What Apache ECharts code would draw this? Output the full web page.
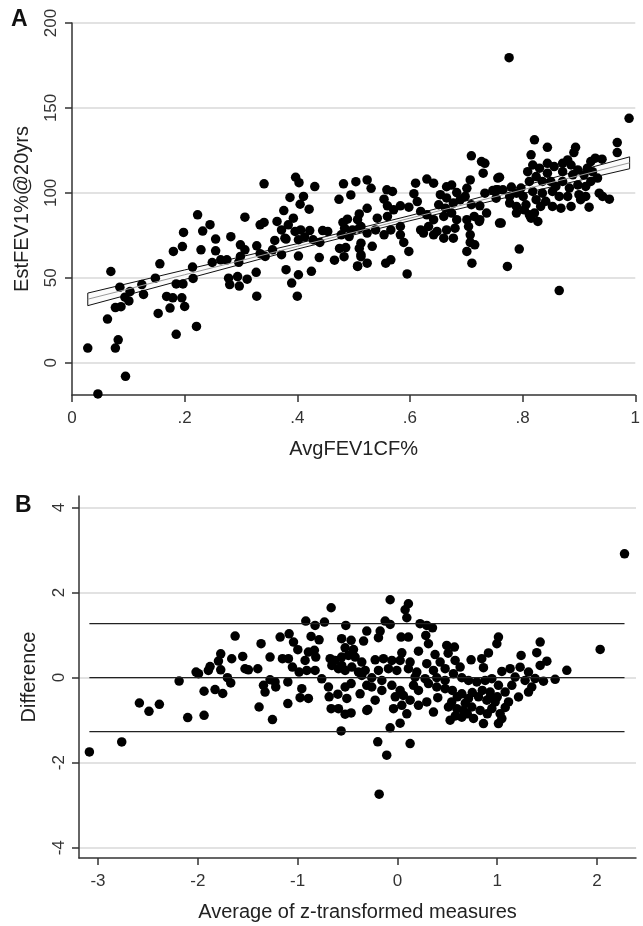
<!doctype html>
<html lang="en">
<head>
    <meta charset="UTF-8">
    <title>FEV1 agreement</title>
    <script src="https://cdn.jsdelivr.net/npm/echarts@6.0.0/dist/echarts.min.js"></script>
    <style>
        html, body { margin: 0; padding: 0; background: #fff; }
        #chart { width: 643px; height: 926px; }
    </style>
</head>
<body>
<div id="chart"></div>
<script>
    // panel A: [AvgFEV1CF%, EstFEV1%@20yrs]
    const pointsA = [
        [0.028,8.6],[0.046,-18.4],[0.069,53.7],[0.063,25.7],[0.082,13.5],[0.077,8.6],[0.095,-8],[0.085,44.5],
        [0.077,32.5],[0.087,33],[0.094,38.6],[0.103,41.9],[0.101,36.4],[0.124,46],[0.127,40.2],[0.156,58.2],
        [0.148,49.8],[0.153,29],[0.180,65.5],[0.196,68.4],[0.198,76.7],[0.223,87.1],[0.232,77.5],[0.245,81.3],
        [0.255,72.8],[0.229,66.5],[0.255,65.9],[0.249,59],[0.264,60.6],[0.214,56.3],[0.215,49.6],[0.185,46.4],
        [0.197,46.4],[0.168,39],[0.179,38.2],[0.195,38.2],[0.174,32.2],[0.200,33.1],[0.185,16.7],[0.221,21.4],
        [0.341,105.3],[0.397,109.2],[0.403,106],[0.431,103.7],[0.482,105.3],[0.504,106.6],[0.387,97.3],[0.411,97.9],
        [0.405,93.3],[0.421,90.4],[0.376,89.6],[0.474,96.2],[0.495,98.8],[0.307,85.7],[0.334,81.2],[0.341,82.6],
        [0.364,83.2],[0.393,85.1],[0.384,81.2],[0.372,78.2],[0.378,73.3],[0.396,77.3],[0.406,78.2],[0.422,77.8],
        [0.413,74],[0.402,72.4],[0.428,72.4],[0.445,77.8],[0.454,77.3],[0.440,70.8],[0.481,82.6],[0.489,84.5],
        [0.510,87.6],[0.484,79.2],[0.498,78.2],[0.510,79.2],[0.478,75.3],[0.492,74.3],[0.475,67.3],[0.486,67.8],
        [0.510,67.3],[0.513,62.4],[0.466,60.4],[0.483,62.4],[0.507,57],[0.282,74.2],[0.299,69.4],[0.307,66.5],
        [0.299,62.6],[0.275,60.6],[0.296,59.1],[0.328,68.8],[0.334,64.2],[0.343,62.6],[0.356,66.5],[0.360,72],
        [0.380,72.8],[0.372,63.6],[0.402,62.8],[0.439,61.9],[0.327,53.2],[0.380,54.8],[0.402,51.8],[0.425,53.8],
        [0.390,46.9],[0.278,49.8],[0.294,50.7],[0.311,49.2],[0.280,46],[0.297,45.1],[0.328,39.2],[0.400,39.2],
        [0.709,121.8],[0.727,118.4],[0.733,117.4],[0.730,111.6],[0.756,108.7],[0.524,107.6],[0.531,102.7],[0.610,105.7],
        [0.630,108.1],[0.642,105.7],[0.559,101.8],[0.569,100.8],[0.554,96.3],[0.560,92.4],[0.607,99.5],[0.613,94.9],
        [0.583,92.4],[0.598,91.6],[0.665,103.6],[0.674,104.6],[0.683,100.2],[0.701,102.7],[0.707,107.6],[0.654,98.9],
        [0.665,97],[0.651,93],[0.663,91],[0.677,94],[0.689,95.9],[0.698,97.9],[0.709,93],[0.724,92.4],
        [0.733,99.8],[0.747,101.4],[0.756,101.8],[0.619,89.1],[0.630,87.1],[0.642,84.2],[0.660,86.1],[0.674,88.1],
        [0.683,84.2],[0.701,84.2],[0.714,86.1],[0.724,84.2],[0.736,88.1],[0.507,84.2],[0.524,90.9],[0.542,85.1],
        [0.560,86.1],[0.571,90],[0.513,80.2],[0.524,76.3],[0.539,78.2],[0.554,75.3],[0.566,78.2],[0.583,80.2],
        [0.619,78.2],[0.633,80.2],[0.648,77.3],[0.665,78.2],[0.680,79.2],[0.704,80.2],[0.723,83.2],[0.759,82.2],
        [0.513,70.4],[0.533,68.5],[0.583,75.3],[0.589,70.8],[0.598,65.5],[0.624,76.3],[0.642,75.3],[0.660,73.3],
        [0.677,73.3],[0.707,75.3],[0.707,70.8],[0.715,69.4],[0.701,65.5],[0.710,58.6],[0.513,63.5],[0.524,58.6],
        [0.557,58.6],[0.566,60.6],[0.595,52.3],[0.507,56.7],
        [0.989,143.9],[0.821,131.2],[0.844,126.8],[0.894,126.8],[0.891,123.7],[0.968,129.6],[0.968,123.7],[0.815,122.4],
        [0.941,119.8],[0.929,120.4],[0.921,118.4],[0.818,116.4],[0.830,114.5],[0.844,117.4],[0.856,115.5],[0.871,117.4],
        [0.880,119.4],[0.886,116.4],[0.898,113.5],[0.915,114.5],[0.809,112.5],[0.824,109.6],[0.844,111.6],[0.871,112.5],
        [0.889,110.6],[0.909,110.6],[0.924,112.5],[0.933,108.7],[0.759,109.2],[0.765,101.8],[0.780,103.4],[0.797,102.8],
        [0.812,106.7],[0.835,106.7],[0.850,106.7],[0.859,103.8],[0.871,106.7],[0.883,102.8],[0.898,104.7],[0.912,103.8],
        [0.921,106.7],[0.777,97.9],[0.789,99.8],[0.801,97.9],[0.818,100.8],[0.835,99.8],[0.853,100.8],[0.865,97.9],
        [0.880,97.9],[0.900,98.9],[0.912,97.9],[0.936,99.8],[0.942,97.9],[0.954,96.3],[0.777,94],[0.789,92],
        [0.806,93],[0.824,96],[0.832,92],[0.841,95],[0.853,92],[0.868,91],[0.886,92],[0.903,96],
        [0.918,91.6],[0.789,88.1],[0.803,90],[0.812,87.1],[0.821,88.1],[0.815,85.1],[0.827,83.2],[0.753,96.9],
        [0.753,101.8],[0.762,82.2],[0.794,66.9],[0.776,179.6],[0.865,42.5],[0.773,56.7]
    ];

    // linear fit with 95% CI, read at a few x positions
    const fitX = [0.028, 0.2, 0.4, 0.6, 0.8, 0.99];
    const fitMid = [37.4, 51.8, 68.5, 85.1, 101.8, 117.7];
    const fitLo = [33.6, 49.0, 66.9, 83.6, 99.6, 114.2];
    const fitHi = [41.0, 54.6, 70.1, 86.6, 104.0, 121.2];

    // panel B: [average of z-scores, difference]
    const pointsB = [
        [-3.086,-1.746],[-2.762,-1.511],[-2.585,-0.596],[-2.489,-0.791],[-2.385,-0.626],[-2.187,-0.08],[-2.101,-0.939],
        [-1.937,-0.885],[-2.017,0.131],[-1.993,0.092],[-1.937,-0.32],[-1.894,0.17],[-1.877,0.26],[-1.827,-0.28],
        [-1.750,-0.373],[-1.793,0.39],[-1.770,0.56],[-1.770,0.185],[-1.703,0.0],[-1.670,-0.125],[-1.660,0.444],
        [-1.626,0.977],[-1.550,0.498],[-1.527,0.209],[-1.493,0.185],
        [-0.664,1.643],[-0.918,1.329],[-0.825,1.228],[-0.731,1.307],[-0.517,1.228],[-0.307,1.094],[-1.175,0.953],
        [-1.085,1.031],[-1.366,0.798],[-1.041,0.837],[-0.998,0.657],[-0.865,0.97],[-0.785,0.89],[-0.559,0.915],
        [-0.464,0.876],[-0.339,0.86],[-0.524,0.70],[-0.440,0.66],[-0.892,0.60],[-0.832,0.641],[-1.276,0.484],
        [-1.152,0.445],[-1.092,0.445],[-0.925,0.405],[-0.818,0.484],[-0.674,0.445],[-0.625,0.405],[-0.559,0.484],
        [-0.491,0.523],[-0.424,0.484],[-0.357,0.366],[-1.399,0.209],[-1.052,0.248],[-0.985,0.13],[-0.908,0.17],
        [-0.825,0.17],[-0.758,-0.028],[-0.657,0.287],[-0.591,0.209],[-0.524,0.17],[-0.457,0.248],[-0.390,0.13],
        [-0.323,0.17],[-0.558,0.287],[-1.276,-0.05],[-1.226,-0.10],[-1.342,-0.18],[-1.326,-0.34],[-1.219,-0.22],
        [-1.098,-0.10],[-0.958,-0.26],[-0.975,-0.47],[-0.892,-0.49],[-1.386,-0.69],[-1.098,-0.61],[-1.252,-0.986],
        [-0.691,-0.22],[-0.684,-0.45],[-0.597,-0.39],[-0.524,-0.22],[-0.464,-0.14],[-0.507,-0.49],[-0.374,-0.38],
        [-0.664,-0.73],[-0.591,-0.73],[-0.524,-0.86],[-0.464,-0.83],[-0.307,-0.77],[-0.564,-1.253],[-0.307,-0.18],
        [-0.357,0.05],
        [-0.073,1.831],[0.110,1.737],[0.077,1.596],[0.094,1.408],[-0.123,1.329],[-0.073,1.25],[-0.173,1.094],
        [-0.190,0.94],[0.037,0.953],[0.110,0.953],[0.227,1.268],[0.294,1.228],[0.351,1.17],[0.284,0.992],
        [0.311,0.797],[0.494,0.758],[0.571,0.719],[0.211,0.622],[0.377,0.543],[0.508,0.574],[0.738,0.418],
        [0.845,0.445],[0.044,0.583],[-0.223,0.42],[-0.140,0.445],[-0.056,0.405],[0.027,0.405],[0.127,0.366],
        [0.294,0.327],[0.428,0.366],[0.578,0.405],[0.628,0.248],[0.862,0.233],[-0.190,0.17],[-0.090,0.21],
        [-0.006,0.17],[0.110,0.21],[0.194,0.13],[0.361,0.17],[0.478,0.21],[0.561,0.092],[-0.257,-0.003],
        [-0.156,-0.066],[0.177,0.014],[0.277,-0.025],[0.394,-0.003],[0.478,-0.066],[0.645,-0.003],[0.712,-0.066],
        [0.795,-0.10],[0.879,-0.066],[-0.257,-0.22],[-0.156,-0.30],[-0.056,-0.18],[0.027,-0.30],[0.161,-0.18],
        [0.211,-0.30],[0.311,-0.14],[0.394,-0.22],[0.478,-0.26],[-0.022,-0.45],[0.060,-0.42],[0.127,-0.53],
        [0.294,-0.57],[0.404,-0.47],[0.544,-0.57],[0.645,-0.38],[0.712,-0.49],[0.812,-0.45],[0.896,-0.53],
        [-0.223,-0.53],[-0.297,-0.75],[-0.039,-0.73],[0.044,-0.65],[0.211,-0.65],[0.361,-0.81],[0.094,-0.85],
        [0.511,-0.69],[0.595,-0.73],[0.661,-0.77],[0.745,-0.69],[0.829,-0.77],[0.528,-1.0],[0.645,-0.93],
        [0.762,-0.96],[0.862,-1.08],[0.027,-1.07],[-0.073,-1.18],[-0.197,-1.51],[0.127,-1.55],[-0.107,-1.824],
        [-0.183,-2.74],
        [0.60,-0.45],[0.68,-0.6],[0.75,-0.35],[0.85,-0.3],[0.93,-0.45],[0.70,-0.85],[0.58,-0.9],[0.90,-0.85],
        [1.0,-0.45],[1.08,-0.7],[0.55,-0.3],
        [2.275,2.91],[2.031,0.664],[1.012,0.953],[0.996,0.797],[0.912,0.58],[1.430,0.836],[1.396,0.586],
        [1.239,0.523],[1.497,0.388],[1.430,0.286],[1.697,0.171],[1.580,-0.04],[1.463,-0.085],[1.379,-0.022],
        [1.313,0.13],[1.229,0.247],[1.129,0.21],[1.046,0.147],[1.179,0.013],[1.279,-0.065],[1.346,-0.22],
        [1.313,-0.34],[1.213,-0.455],[1.113,-0.572],[1.012,-0.18],[0.946,-0.025],[0.929,-0.34],[0.979,-0.572],
        [0.946,-0.728],[1.029,-0.846],[1.046,-0.963],[1.012,-1.08],[1.079,-0.34],[1.146,-0.18]
    ];

    // mean difference and limits of agreement, drawn across the data range
    const loaLevels = [1.27, 0, -1.27];
    const loaSpan = [-3.086, 2.275];

    const xTicksA = [0, 0.2, 0.4, 0.6, 0.8, 1];
    const yTicksA = [0, 50, 100, 150, 200];
    const xTicksB = [-3, -2, -1, 0, 1, 2];
    const yTicksB = [-4, -2, 0, 2, 4];

    const FONT = '"Liberation Sans", Arial, sans-serif';
    const axisColor = '#333';
    const gridColor = '#d9d9d9';

    function baseAxis(ticks, extra) {
        return Object.assign({
            type: 'value',
            axisLine: { show: true, onZero: false, lineStyle: { color: axisColor, width: 1.5 } },
            axisTick: { show: true, inside: false, length: 7, customValues: ticks, lineStyle: { color: axisColor, width: 1.5 } },
            axisLabel: { customValues: ticks, fontSize: 17, color: '#333', fontFamily: FONT },
            splitLine: { show: false },
            nameLocation: 'middle',
            nameTextStyle: { fontSize: 20, color: '#222', fontFamily: FONT }
        }, extra);
    }

    const fmtShare = v => v === 0 ? '0' : v === 1 ? '1' : String(v).replace(/^0\./, '.');

    const xA = baseAxis(xTicksA, { gridIndex: 0, min: 0, max: 1, name: 'AvgFEV1CF%', nameGap: 44 });
    xA.axisLabel.formatter = fmtShare;
    xA.axisLabel.margin = 15;

    const yA = baseAxis(yTicksA, { gridIndex: 0, min: -19, max: 200, name: 'EstFEV1%@20yrs', nameGap: 40 });
    yA.axisLabel.rotate = 90;
    yA.axisLabel.margin = 12;
    yA.splitLine = { show: true, lineStyle: { color: gridColor, width: 1.5 } };

    const xB = baseAxis(xTicksB, { gridIndex: 1, min: -3.19, max: 2.39, name: 'Average of z-transformed measures', nameGap: 44 });
    xB.axisLabel.margin = 15;

    const yB = baseAxis(yTicksB, { gridIndex: 1, min: -4.24, max: 4.27, name: 'Difference', nameGap: 40 });
    yB.axisLabel.rotate = 90;
    yB.axisLabel.margin = 11;
    yB.splitLine = { show: true, lineStyle: { color: gridColor, width: 1.5 } };

    const dot = { color: '#000', opacity: 1 };

    const series = [
        {
            type: 'scatter', xAxisIndex: 0, yAxisIndex: 0,
            data: pointsA, symbolSize: 9.5, itemStyle: dot
        },
        {
            // confidence band: closed polygon over the points
            type: 'custom', xAxisIndex: 0, yAxisIndex: 0,
            data: [[fitX[0], fitLo[0]]],
            silent: true,
            renderItem: (params, api) => {
                const upper = fitX.map((x, i) => api.coord([x, fitHi[i]]));
                const lower = fitX.map((x, i) => api.coord([x, fitLo[i]])).reverse();
                return {
                    type: 'polygon',
                    shape: { points: upper.concat(lower) },
                    style: { fill: '#fbfbfb', stroke: '#111', lineWidth: 1 }
                };
            }
        },
        {
            type: 'line', xAxisIndex: 0, yAxisIndex: 0,
            data: fitX.map((x, i) => [x, fitMid[i]]),
            symbol: 'none', silent: true, lineStyle: { color: '#999', width: 1 }
        }
    ];

    loaLevels.forEach(level => {
        series.push({
            type: 'line', xAxisIndex: 1, yAxisIndex: 1,
            data: loaSpan.map(x => [x, level]),
            symbol: 'none', silent: true, lineStyle: { color: '#222', width: 1.3 }
        });
    });

    series.push({
        type: 'scatter', xAxisIndex: 1, yAxisIndex: 1,
        data: pointsB, symbolSize: 9.5, itemStyle: dot
    });

    const chart = echarts.init(document.getElementById('chart'));
    chart.setOption({
        animation: false,
        backgroundColor: '#fff',
        textStyle: { fontFamily: FONT },
        grid: [
            { left: 72, top: 23, width: 568, height: 372 },
            { left: 79, top: 496, width: 557, height: 362 }
        ],
        xAxis: [xA, xB],
        yAxis: [yA, yB],
        graphic: [
            { type: 'text', left: 11, top: 8, style: { text: 'A', fontSize: 23, fontWeight: 'bold', fill: '#111', fontFamily: FONT } },
            { type: 'text', left: 15, top: 494, style: { text: 'B', fontSize: 23, fontWeight: 'bold', fill: '#111', fontFamily: FONT } }
        ],
        series: series
    });
</script>
</body>
</html>
